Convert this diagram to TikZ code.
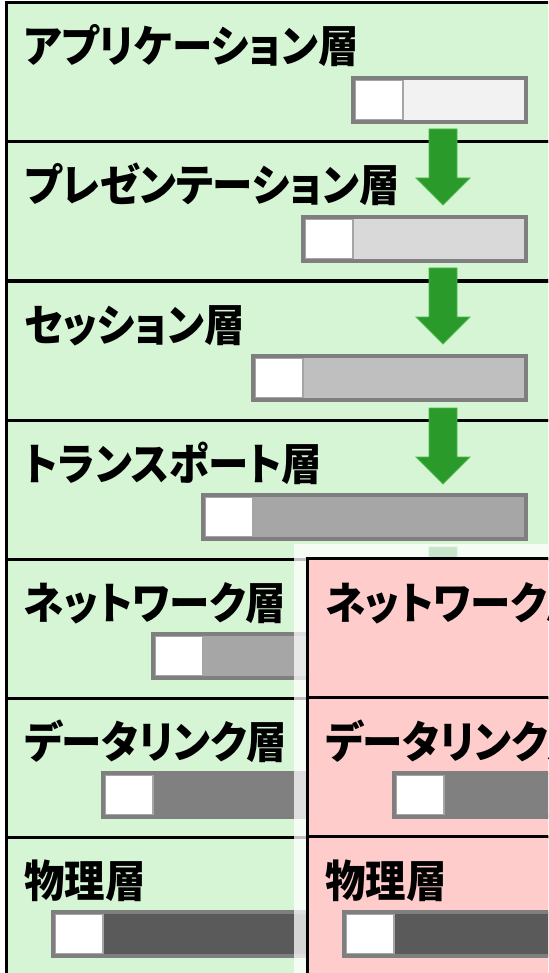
\documentclass[tikz,border=0pt]{standalone}
\usepackage{fontspec}
\newfontfamily\jp{Noto Sans CJK JP}[RawFeature=+palt, FakeStretch=0.92]
\definecolor{panelgreen}{RGB}{213,245,213}
\definecolor{panelred}{RGB}{255,204,204}
\definecolor{arrowgreen}{RGB}{42,154,42}
\definecolor{arrowedge}{RGB}{80,185,80}
\definecolor{frame}{RGB}{127,127,127}
\definecolor{hdrline}{RGB}{165,165,165}
\definecolor{fillA}{RGB}{242,242,242}
\definecolor{fillB}{RGB}{217,217,217}
\definecolor{fillC}{RGB}{191,191,191}
\definecolor{fillD}{RGB}{166,166,166}
\definecolor{fillE}{RGB}{166,166,166}
\definecolor{fillF}{RGB}{128,128,128}
\definecolor{fillG}{RGB}{90,90,90}
\tikzset{
  layerrow/.style={draw=black, line width=3pt},
  layertext/.style={anchor=base west, inner sep=0pt, font=\jp\bfseries\fontsize{44}{48}\selectfont},
  barframe/.style={draw=frame, line width=4pt},
  barhead/.style={fill=white, draw=hdrline, line width=1.2pt},
  blockarrow/.style={fill=arrowgreen, draw=arrowedge, line width=0.8pt},
  veil/.style={fill=white, fill opacity=0.75},
}
\newcommand{\layerbar}[4]{% left, top, right, fill
  \draw[barframe, fill=#4] (#1+2,#2+2) rectangle (#3-2,#2+46);
  \draw[barhead] (#1+4.6,#2+4.6) rectangle (#1+52,#2+43.4);
}
\newcommand{\greenarrow}[1]{% top y
  \filldraw[blockarrow] (429,#1) -- (457,#1) -- (457,#1+49) -- (470,#1+49) -- (443,#1+76) -- (416,#1+49) -- (429,#1+49) -- cycle;
}
\begin{document}
\begin{tikzpicture}[x=1pt,y=-1pt]
\useasboundingbox (0,0) rectangle (548,973);
\clip (0,0) rectangle (548,973);
% left stack
\foreach \i in {0,...,6}{
  \filldraw[layerrow, fill=panelgreen] (6,{3+139*\i}) rectangle (580,{3+139*(\i+1)});
}
\node[layertext] (t1) at (24,63) {アプリケーション層};
\node[layertext] (t2) at (24,202) {プレゼンテーション層};
\node[layertext] (t3) at (24,341) {セッション層};
\node[layertext] (t4) at (24,480) {トランスポート層};
\node[layertext] (t5) at (24,619) {ネットワーク層};
\node[layertext] (t6) at (24,758) {データリンク層};
\node[layertext] (t7) at (24,897) {物理層};
\layerbar{351}{76}{528}{fillA}
\layerbar{301}{215}{528}{fillB}
\layerbar{251}{354}{528}{fillC}
\layerbar{201}{493}{528}{fillD}
\layerbar{151}{632}{528}{fillE}
\layerbar{101}{771}{528}{fillF}
\layerbar{51}{910}{528}{fillG}
\greenarrow{129}
\greenarrow{268}
\greenarrow{408}
\greenarrow{547}
% veil
\fill[veil] (294,544) rectangle (600,1000);
% right stack
\foreach \i in {0,1,2}{
  \filldraw[layerrow, fill=panelred] (307,{558+139*\i}) rectangle (600,{558+139*(\i+1)});
}
\node[layertext] (r5) at (325,619) {ネットワーク層};
\node[layertext] (r6) at (325,758) {データリンク層};
\node[layertext] (r7) at (325,897) {物理層};
\layerbar{392}{771}{640}{fillF}
\layerbar{342}{910}{640}{fillG}
\end{tikzpicture}
\end{document}
